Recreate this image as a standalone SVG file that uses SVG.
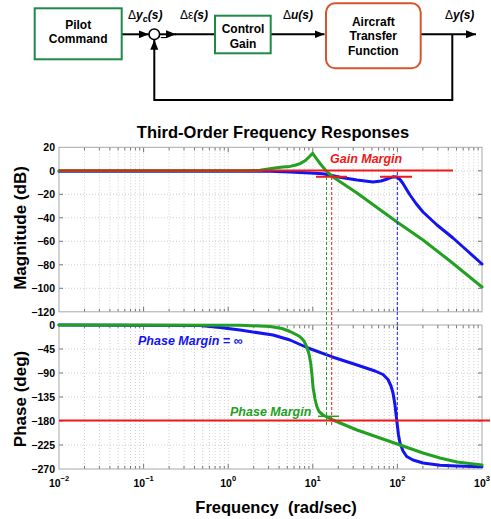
<svg xmlns="http://www.w3.org/2000/svg" xmlns:xlink="http://www.w3.org/1999/xlink" width="491" height="519" viewBox="0 0 491 519">
<style>
text{font-family:"Liberation Sans",Arial,sans-serif;font-weight:bold;fill:#000}
.blk{fill:#fff;stroke-width:2}
.g{stroke:#1e8a4a}
.o{stroke:#d4562a}
.bt{font-size:12px;text-anchor:middle}
.lbl{font-size:12px;font-style:italic}
.sym{font-weight:normal;font-style:normal}
.wire{fill:none;stroke:#000;stroke-width:2}
.grid{fill:none;stroke:#c4c4c4;stroke-width:0.8;stroke-dasharray:1 2}
.box{fill:none;stroke:#a8a8a8;stroke-width:1}
.tick{fill:none;stroke:#555;stroke-width:0.8}
.tl{font-size:10.5px}
.yl{text-anchor:end}
.xl{text-anchor:middle}
.ax{font-size:17px;text-anchor:middle}
.cg{fill:none;stroke:#22a022;stroke-width:3;stroke-linejoin:round;stroke-linecap:round}
.cb{fill:none;stroke:#1414f0;stroke-width:3;stroke-linejoin:round;stroke-linecap:round}
.rl{fill:none;stroke:#f01818;stroke-width:2}
.dash{fill:none;stroke-width:1;stroke-dasharray:3 2}
.ann{font-size:12.5px;font-style:italic}
</style>
<defs>
<marker id="arr" markerUnits="userSpaceOnUse" markerWidth="10" markerHeight="8" refX="10" refY="4" orient="auto">
<path d="M0,0 L10,4 L0,8 z" fill="#000"/>
</marker>
<path id="xt" d="M84.5 0v3M99.4 0v3M109.9 0v3M118.1 0v3M124.8 0v3M130.5 0v3M135.4 0v3M139.7 0v3M143.6 0v5M169.1 0v3M184 0v3M194.5 0v3M202.7 0v3M209.4 0v3M215.1 0v3M220 0v3M224.3 0v3M228.2 0v5M253.7 0v3M268.6 0v3M279.1 0v3M287.3 0v3M294 0v3M299.7 0v3M304.6 0v3M308.9 0v3M312.8 0v5M338.3 0v3M353.2 0v3M363.7 0v3M371.9 0v3M378.6 0v3M384.3 0v3M389.2 0v3M393.5 0v3M397.4 0v5M422.9 0v3M437.8 0v3M448.3 0v3M456.5 0v3M463.2 0v3M468.9 0v3M473.8 0v3M478.1 0v3"/>
</defs>
<rect width="491" height="519" fill="#fff"/>

<!-- block diagram -->
<g id="connectors">
<line class="wire" x1="122" y1="34.3" x2="148.8" y2="34.3" marker-end="url(#arr)"/>
<line class="wire" x1="159.6" y1="34.3" x2="176" y2="34.3" marker-end="url(#arr)"/>
<line class="wire" x1="175" y1="34.3" x2="215" y2="34.3"/>
<line class="wire" x1="271" y1="34.3" x2="324.5" y2="34.3" marker-end="url(#arr)"/>
<line class="wire" x1="421" y1="34.3" x2="476" y2="34.3" marker-end="url(#arr)"/>
<path class="wire" d="M452.3 34.3V100H154.3V39.8" marker-end="url(#arr)"/>
<circle cx="154.3" cy="34.3" r="5.3" fill="#fff" stroke="#000" stroke-width="1.6"/>
<text x="163.5" y="41" font-size="11" text-anchor="middle">–</text>
<text class="lbl" x="128" y="18.5"><tspan class="sym">Δ</tspan>y<tspan font-size="9" dy="3">c</tspan><tspan dy="-3">(s)</tspan></text>
<text class="lbl" x="180" y="18.5"><tspan class="sym">Δε</tspan>(s)</text>
<text class="lbl" x="283" y="18.5"><tspan class="sym">Δ</tspan>u(s)</text>
<text class="lbl" x="445" y="18.5"><tspan class="sym">Δ</tspan>y(s)</text>
</g>
<g id="pilot">
<rect class="blk g" x="34.7" y="8.3" width="87" height="51"/>
<text class="bt" x="78.2" y="28.5">Pilot</text>
<text class="bt" x="78.2" y="42.8">Command</text>
</g>
<g id="gain">
<rect class="blk g" x="215" y="15.7" width="55.7" height="37.6"/>
<text class="bt" x="243" y="33.2">Control</text>
<text class="bt" x="243" y="47.5">Gain</text>
</g>
<g id="aircraft">
<rect class="blk o" x="326" y="3.3" width="94.7" height="65" rx="9"/>
<text class="bt" x="373.3" y="26">Aircraft</text>
<text class="bt" x="373.3" y="40">Transfer</text>
<text class="bt" x="373.3" y="54.5">Function</text>
</g>

<!-- plot -->
<text x="273" y="138" font-size="16.5" text-anchor="middle">Third-Order Frequency Responses</text>

<g id="magnitude">
<path class="grid" d="M59 170.8H482M59 194.3H482M59 217.8H482M59 241.3H482M59 264.8H482M59 288.3H482"/>
<path class="grid" d="M84.5 147.3v164.5M99.4 147.3v164.5M109.9 147.3v164.5M118.1 147.3v164.5M124.8 147.3v164.5M130.5 147.3v164.5M135.4 147.3v164.5M139.7 147.3v164.5M143.6 147.3v164.5M169.1 147.3v164.5M184 147.3v164.5M194.5 147.3v164.5M202.7 147.3v164.5M209.4 147.3v164.5M215.1 147.3v164.5M220 147.3v164.5M224.3 147.3v164.5M228.2 147.3v164.5M253.7 147.3v164.5M268.6 147.3v164.5M279.1 147.3v164.5M287.3 147.3v164.5M294 147.3v164.5M299.7 147.3v164.5M304.6 147.3v164.5M308.9 147.3v164.5M312.8 147.3v164.5M338.3 147.3v164.5M353.2 147.3v164.5M363.7 147.3v164.5M371.9 147.3v164.5M378.6 147.3v164.5M384.3 147.3v164.5M389.2 147.3v164.5M393.5 147.3v164.5M397.4 147.3v164.5M422.9 147.3v164.5M437.8 147.3v164.5M448.3 147.3v164.5M456.5 147.3v164.5M463.2 147.3v164.5M468.9 147.3v164.5M473.8 147.3v164.5M478.1 147.3v164.5"/>
<use xlink:href="#xt" class="tick" transform="translate(0,147.3)"/>
<use xlink:href="#xt" class="tick" transform="translate(0,311.8) scale(1,-1)"/>
<path class="tick" d="M59 170.8h4M59 194.3h4M59 217.8h4M59 241.3h4M59 264.8h4M59 288.3h4M482 170.8h-4M482 194.3h-4M482 217.8h-4M482 241.3h-4M482 264.8h-4M482 288.3h-4"/>
<rect class="box" x="59" y="147.3" width="423" height="164.5"/>
<g class="tl yl">
<text x="55" y="151">20</text>
<text x="55" y="174.5">0</text>
<text x="55" y="198">−20</text>
<text x="55" y="221.5">−40</text>
<text x="55" y="245">−60</text>
<text x="55" y="268.5">−80</text>
<text x="55" y="292">−100</text>
<text x="55" y="315.5">−120</text>
</g>
<path class="cb" d="M59 171.2L270 171.3L290 172L310 173L323 173.8L332 175.5L340 177.2L357 180L373 182L381 181L388 178.7L393 176.8L397 177L400 179.5L403 183.5L406 188.5L410 195L416 203.5L423 212L437 225L453 238L467 250.5L482 264"/>
<path class="cg" d="M59 170.8L240 170.7L260 170.3L273 168.2L283 167L290 166.4L295 165.2L300 163.6L305 160.8L309 157L312.7 153.3L316 158L320 163.5L326.7 171.5L333 177L357 193L397 222L423 240L450 261L482 287"/>
<path class="rl" d="M59 170.6H453M316 176.7H347M380 176.7H412"/>
<text class="ann" x="330" y="162.5" style="fill:#f01818">Gain Margin</text>
<text class="ax" transform="translate(25.5,228) rotate(-90)">Magnitude (dB)</text>
</g>

<g id="phase">
<path class="grid" d="M59 349H482M59 373H482M59 397H482M59 421H482M59 445H482"/>
<path class="grid" d="M84.5 325v144M99.4 325v144M109.9 325v144M118.1 325v144M124.8 325v144M130.5 325v144M135.4 325v144M139.7 325v144M143.6 325v144M169.1 325v144M184 325v144M194.5 325v144M202.7 325v144M209.4 325v144M215.1 325v144M220 325v144M224.3 325v144M228.2 325v144M253.7 325v144M268.6 325v144M279.1 325v144M287.3 325v144M294 325v144M299.7 325v144M304.6 325v144M308.9 325v144M312.8 325v144M338.3 325v144M353.2 325v144M363.7 325v144M371.9 325v144M378.6 325v144M384.3 325v144M389.2 325v144M393.5 325v144M397.4 325v144M422.9 325v144M437.8 325v144M448.3 325v144M456.5 325v144M463.2 325v144M468.9 325v144M473.8 325v144M478.1 325v144"/>
<use xlink:href="#xt" class="tick" transform="translate(0,325)"/>
<use xlink:href="#xt" class="tick" transform="translate(0,469) scale(1,-1)"/>
<path class="tick" d="M59 349h4M59 373h4M59 397h4M59 421h4M59 445h4M482 349h-4M482 373h-4M482 397h-4M482 421h-4M482 445h-4"/>
<rect class="box" x="59" y="325" width="423" height="144"/>
<g class="tl yl">
<text x="55" y="328.7">0</text>
<text x="55" y="352.7">−45</text>
<text x="55" y="376.7">−90</text>
<text x="55" y="400.7">−135</text>
<text x="55" y="424.7">−180</text>
<text x="55" y="448.7">−225</text>
<text x="55" y="472.7">−270</text>
</g>
<g class="tl xl">
<text x="59" y="486.5">10<tspan font-size="7.5" dy="-6">−2</tspan></text>
<text x="143.6" y="486.5">10<tspan font-size="7.5" dy="-6">−1</tspan></text>
<text x="228.2" y="486.5">10<tspan font-size="7.5" dy="-6">0</tspan></text>
<text x="312.8" y="486.5">10<tspan font-size="7.5" dy="-6">1</tspan></text>
<text x="397.4" y="486.5">10<tspan font-size="7.5" dy="-6">2</tspan></text>
<text x="482" y="486.5">10<tspan font-size="7.5" dy="-6">3</tspan></text>
</g>
<path d="M318 416.3H339" stroke="#22a022" stroke-width="1.5" fill="none"/>
<text class="ann" x="230" y="415.5" style="fill:#22a022">Phase Margin</text>
<text class="ann" x="138" y="345" style="fill:#1414f0">Phase Margin = ∞</text>
<path class="cb" d="M59 325L200 325.5L220 327.5L240 330L273 335L290 340L308 348L331.7 356.7L357 365L375 371L383 374.5L388 379.5L391 386L393 393L395 405L396.7 420L398.5 435L400 443L403 451L406.7 456.5L413 460L423 463L440 465.2L457 466L482 466.7"/>
<path class="cg" d="M59 325L240 325.3L270 326.5L282 328.5L290 331.5L296 334.5L300 336.7L304 341L306.7 346.7L309 354L310.7 363L312 375L313 387L315 399L316.7 406L319 411.5L323 415L333 420L357 430L380 438L400 445L423 453L440 458L457 462L482 465"/>
<path class="rl" d="M59 420.5H490"/>
<text class="ax" transform="translate(25.5,399) rotate(-90)">Phase (deg)</text>
</g>

<g id="markers">
<path class="dash" stroke="#22a022" d="M326.5 177V427"/>
<path class="dash" stroke="#f01818" d="M331.7 177V427"/>
<path class="dash" stroke="#1414f0" d="M397.3 172V420"/>
</g>

<text x="276" y="513" font-size="16.5" text-anchor="middle">Frequency&#160; (rad/sec)</text>
</svg>
